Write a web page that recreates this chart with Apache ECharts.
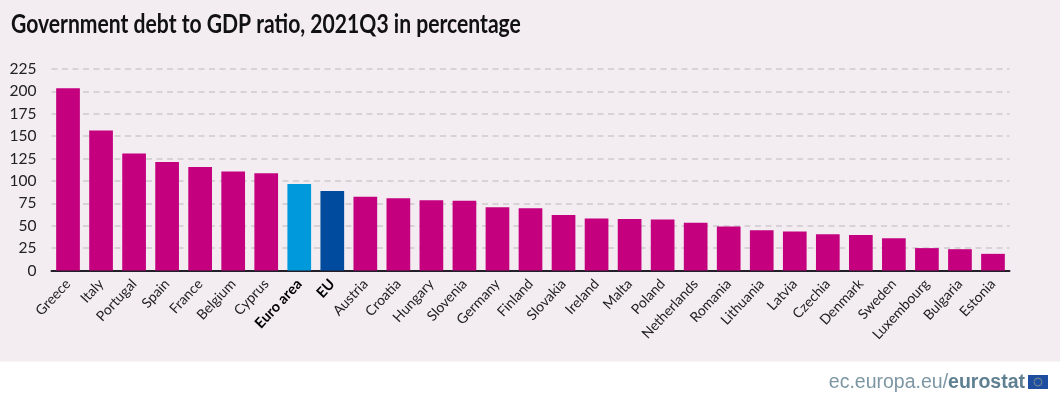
<!DOCTYPE html>
<html>
<head>
<meta charset="utf-8">
<style>
  html, body { margin: 0; padding: 0; background: #fff; }
  #chart { width: 1060px; height: 395px; }
</style>
<script src="https://cdn.jsdelivr.net/npm/echarts@6/dist/echarts.min.js"></script>
</head>
<body>
<div id="chart"></div>
<script>
var categories = ['Greece', 'Italy', 'Portugal', 'Spain', 'France', 'Belgium', 'Cyprus', 'Euro area', 'EU', 'Austria', 'Croatia', 'Hungary', 'Slovenia', 'Germany', 'Finland', 'Slovakia', 'Ireland', 'Malta', 'Poland', 'Netherlands', 'Romania', 'Lithuania', 'Latvia', 'Czechia', 'Denmark', 'Sweden', 'Luxembourg', 'Bulgaria', 'Estonia']
var debtRatio = [203.5, 156.3, 130.6, 121.1, 115.5, 110.6, 108.7, 96.6, 88.7, 82.3, 80.8, 78.5, 77.8, 70.7, 69.5, 62, 58.2, 57.4, 57, 53.3, 49.2, 45, 43.5, 40.4, 39.7, 36, 25, 23.8, 18.6]

var labelFont = 'Lato, sans-serif'
var pageBg = '#f3edf2'
var barColor = '#c4007f'
var euroAreaColor = '#0099dc'
var euColor = '#004b9e'

var chart = echarts.init(document.getElementById('chart'))

// ring of stars on the flag, drawn as small dots
var flagStars = []
for (var i = 0; i < 12; i++) {
  var a = i / 12 * Math.PI * 2
  flagStars.push({
    type: 'circle',
    z: 3,
    shape: { cx: 1038, cy: 382, r: 0 },
    style: { fill: '#c9c27a' }
  })
  flagStars[i].shape.cx += Math.cos(a) * 3.8
  flagStars[i].shape.cy += Math.sin(a) * 3.8
  flagStars[i].shape.r = 0.6
}

chart.setOption({
  animation: false,
  backgroundColor: '#fff',
  textStyle: { fontFamily: labelFont },
  grid: { left: 51.5, right: 50.5, top: 69, height: 201.5 },
  xAxis: {
    type: 'category',
    data: categories,
    axisLine: { lineStyle: { color: '#231f2a', width: 2 } },
    axisTick: { show: false },
    axisLabel: {
      interval: 0,
      rotate: 47,
      margin: 11,
      color: '#222',
      fontSize: 14,
      fontFamily: labelFont,
      formatter: function(name) {
        return name === 'Euro area' || name === 'EU' ? '{b|' + name + '}' : name
      },
      rich: {
        b: { fontFamily: labelFont, fontSize: 14.5, fontWeight: 'bold', color: '#000' }
      }
    }
  },
  yAxis: {
    type: 'value',
    min: 0,
    max: 225,
    interval: 25,
    axisLine: { show: false },
    axisTick: { show: false },
    axisLabel: { margin: 15, color: '#222', fontSize: 15.5, fontFamily: labelFont, padding: [3, 0, 0, 0] },
    splitLine: { lineStyle: { color: '#cdc9cd', width: 1.5, type: [6, 4.5] } }
  },
  series: [
    {
      type: 'bar',
      barWidth: 23.7,
      data: debtRatio.map(function(v, i) {
        var color = barColor
        if (categories[i] === 'Euro area') color = euroAreaColor
        if (categories[i] === 'EU') color = euColor
        return { value: v, itemStyle: { color: color } }
      })
    }
  ],
  graphic: [
    {
      type: 'rect',
      z: -10,
      silent: true,
      shape: { x: 0, y: 0, width: 1060, height: 361.5 },
      style: { fill: pageBg }
    },
    {
      // title is squeezed sideways, no condensed font is installed
      type: 'text',
      z: 3,
      x: 11,
      y: 24,
      scaleX: 0.782,
      style: {
        text: 'Government debt to GDP ratio, 2021Q3 in percentage',
        font: 'bold 27px Lato, sans-serif',
        verticalAlign: 'middle',
        fill: '#111'
      }
    },
    {
      type: 'text',
      z: 3,
      x: 1025,
      y: 383,
      style: {
        text: '{a|ec.europa.eu/}{b|eurostat}',
        align: 'right',
        verticalAlign: 'middle',
        rich: {
          a: { fontFamily: '"Liberation Sans"', fontSize: 19.5, fill: '#7d96a3', color: '#7d96a3' },
          b: { fontFamily: '"Liberation Sans"', fontSize: 19.5, fontWeight: 'bold', fill: '#5f8091', color: '#5f8091' }
        }
      }
    },
    {
      type: 'rect',
      z: 2,
      shape: { x: 1028, y: 375, width: 20, height: 14 },
      style: { fill: '#1f4ea1' }
    }
  ].concat(flagStars)
})
</script>
</body>
</html>
